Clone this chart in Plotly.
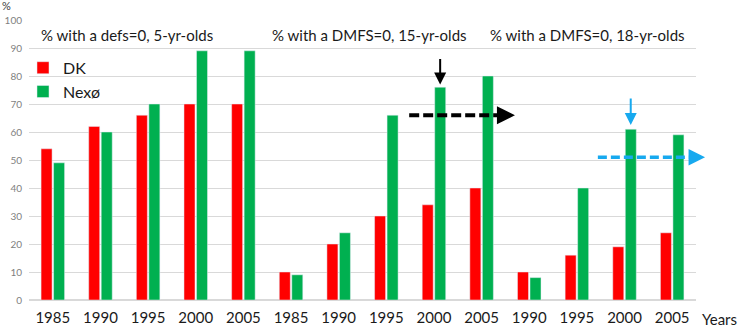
import plotly.graph_objects as go

# ---- data ----
year_labels = ["1985", "1990", "1995", "2000", "2005",
               "1985", "1990", "1995", "2000", "2005",
               "1990", "1995", "2000", "2005"]
dk_values = [54, 62, 66, 70, 70,
             10, 20, 30, 34, 40,
             10, 16, 19, 24]
nexo_values = [49, 60, 70, 89, 89,
               9, 24, 66, 76, 80,
               8, 40, 61, 59]
group_titles = ["% with a defs=0, 5-yr-olds",
                "% with a DMFS=0, 15-yr-olds",
                "% with a DMFS=0, 18-yr-olds"]
y_ticks = [0, 10, 20, 30, 40, 50, 60, 70, 80, 90, 100]

positions = list(range(len(year_labels)))
N = len(year_labels)

RED = "#ff0000"
GREEN = "#00b050"
BLUE = "#17a9ef"
FONT = "Lato"

fig = go.Figure()
fig.add_trace(go.Bar(x=positions, y=dk_values, name="DK", marker_color=RED))
fig.add_trace(go.Bar(x=positions, y=nexo_values, name="Nexø", marker_color=GREEN))


def px(v):
    """category coordinate -> paper fraction"""
    return (v + 0.5) / N


def py(v):
    return v / 100.0


annotations = []
title_x = [0.015, 0.362, 0.688]
for t, xx in zip(group_titles, title_x):
    annotations.append(dict(text=t, x=xx, y=0.946, xref="paper", yref="paper",
                            xanchor="left", yanchor="middle", showarrow=False,
                            font=dict(family=FONT, size=15, color="#1a1a1a")))
annotations.append(dict(text="%", x=-0.033, y=1.052, xref="paper", yref="paper",
                        xanchor="center", yanchor="middle", showarrow=False,
                        font=dict(family=FONT, size=11, color="#404040")))
annotations.append(dict(text="Years", x=1.006, y=-0.068, xref="paper", yref="paper",
                        xanchor="left", yanchor="middle", showarrow=False,
                        font=dict(family=FONT, size=15, color="#1a1a1a")))

# down arrows
off = 0.13
annotations.append(dict(x=px(8 + off), y=py(77), ax=0, ay=-27,
                        xref="paper", yref="paper", axref="pixel", ayref="pixel",
                        showarrow=True, arrowhead=2, arrowsize=1.2, arrowwidth=2,
                        arrowcolor="black", text=""))
annotations.append(dict(x=px(12 + off), y=py(62.5), ax=0, ay=-28,
                        xref="paper", yref="paper", axref="pixel", ayref="pixel",
                        showarrow=True, arrowhead=2, arrowsize=1.2, arrowwidth=2,
                        arrowcolor=BLUE, text=""))
# horizontal arrow heads
annotations.append(dict(x=px(9.70), y=py(66), ax=-12, ay=0,
                        xref="paper", yref="paper", axref="pixel", ayref="pixel",
                        showarrow=True, arrowhead=2, arrowsize=0.9, arrowwidth=4,
                        arrowcolor="black", text=""))
annotations.append(dict(x=px(13.69), y=py(51), ax=-14, ay=0,
                        xref="paper", yref="paper", axref="pixel", ayref="pixel",
                        showarrow=True, arrowhead=2, arrowsize=1.1, arrowwidth=3,
                        arrowcolor=BLUE, text=""))

shapes = [
    dict(type="line", xref="paper", yref="paper", x0=px(7.48), x1=px(9.40),
         y0=py(66), y1=py(66), line=dict(color="black", width=4, dash="10px,4px"),
         layer="above"),
    dict(type="line", xref="paper", yref="paper", x0=px(11.44), x1=px(13.45),
         y0=py(51), y1=py(51), line=dict(color=BLUE, width=3.5, dash="9px,4px"),
         layer="above"),
]

fig.update_layout(
    width=738, height=328,
    margin=dict(l=29, r=42, t=20, b=28, autoexpand=False),
    paper_bgcolor="white", plot_bgcolor="white",
    barmode="group", bargap=0.475, bargroupgap=0.12,
    font=dict(family=FONT),
    showlegend=True,
    legend=dict(x=-0.009, y=0.89, xanchor="left", yanchor="top",
                bgcolor="rgba(0,0,0,0)", font=dict(family=FONT, size=16, color="#1a1a1a"),
                itemwidth=30, tracegroupgap=0),
    annotations=annotations,
    shapes=shapes,
    xaxis=dict(tickmode="array", tickvals=positions, ticktext=year_labels,
               range=[-0.5, N - 0.5], showgrid=False, showline=True,
               linecolor="#d9d9d9", linewidth=1, ticks="", automargin=False,
               tickfont=dict(family=FONT, size=15, color="#1a1a1a"),
               ticklabelstandoff=4, fixedrange=True),
    yaxis=dict(range=[0, 100], tickvals=y_ticks, showgrid=True, gridcolor="#d9d9d9",
               gridwidth=1, zeroline=True, zerolinecolor="#d9d9d9", showline=False,
               automargin=False,
               tickfont=dict(family=FONT, size=10, color="#7f7f7f"),
               ticklabelstandoff=6, fixedrange=True),
)

fig.write_html("out.html")
